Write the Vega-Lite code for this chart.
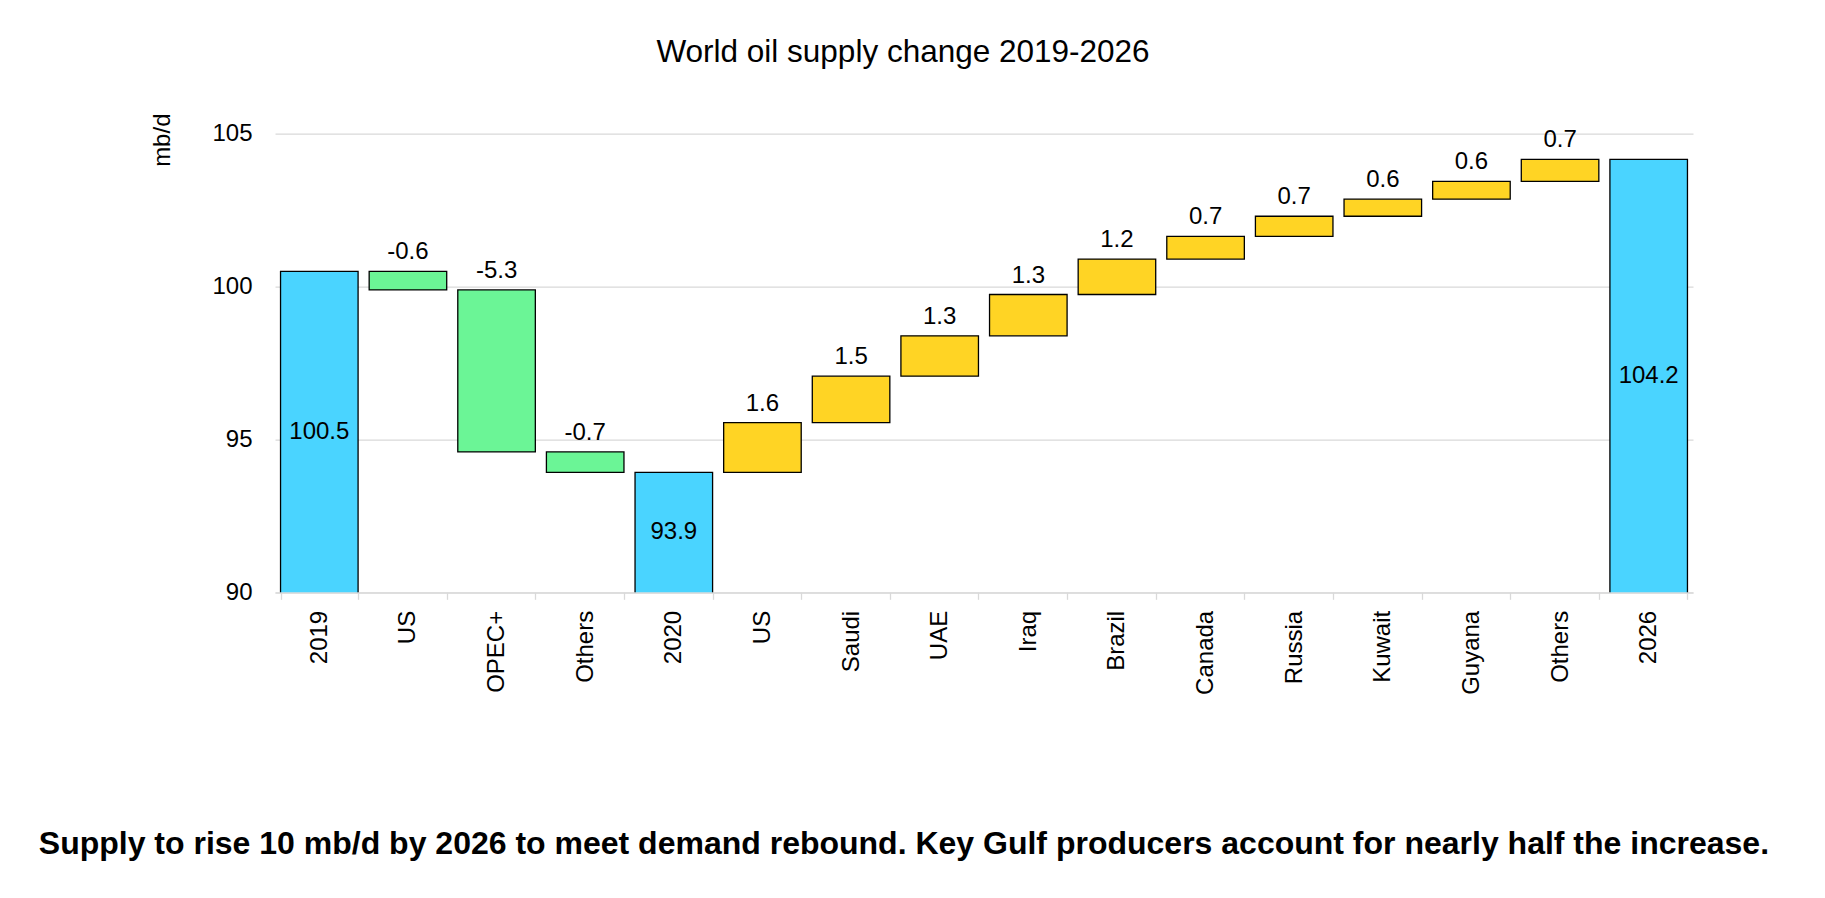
{
  "$schema": "https://vega.github.io/schema/vega-lite/v6.json",
  "width": 1418,
  "height": 458.6,
  "autosize": {"type": "none"},
  "padding": {"left": 275, "top": 133.7, "right": 132, "bottom": 305.7},
  "background": "white",
  "config": {
    "font": "Liberation Sans",
    "locale": {"number": {"decimal": ".", "thousands": ",", "grouping": [3], "currency": ["$", ""], "minus": "-"}},
    "view": {"stroke": null},
    "axis": {"labelColor": "#000000", "titleColor": "#000000", "labelFont": "Liberation Sans", "titleFont": "Liberation Sans"}
  },
  "title": {
    "text": "World oil supply change 2019-2026",
    "fontSize": 31.5,
    "fontWeight": "normal",
    "color": "#000000",
    "anchor": "middle",
    "frame": "group",
    "dx": -81,
    "baseline": "alphabetic",
    "offset": 20
  },
  "data": {
    "values": [
      {"id": "2019|a", "type": "total", "start": 0, "end": 100.5, "value": 100.5},
      {"id": "US|a", "type": "decrease", "start": 100.5, "end": 99.89, "value": -0.6},
      {"id": "OPEC+|a", "type": "decrease", "start": 99.89, "end": 94.59, "value": -5.3},
      {"id": "Others|a", "type": "decrease", "start": 94.59, "end": 93.92, "value": -0.7},
      {"id": "2020|a", "type": "total", "start": 0, "end": 93.92, "value": 93.9},
      {"id": "US|b", "type": "increase", "start": 93.92, "end": 95.55, "value": 1.6},
      {"id": "Saudi|a", "type": "increase", "start": 95.55, "end": 97.07, "value": 1.5},
      {"id": "UAE|a", "type": "increase", "start": 97.07, "end": 98.39, "value": 1.3},
      {"id": "Iraq|a", "type": "increase", "start": 98.39, "end": 99.74, "value": 1.3},
      {"id": "Brazil|a", "type": "increase", "start": 99.74, "end": 100.9, "value": 1.2},
      {"id": "Canada|a", "type": "increase", "start": 100.9, "end": 101.64, "value": 0.7},
      {"id": "Russia|a", "type": "increase", "start": 101.64, "end": 102.3, "value": 0.7},
      {"id": "Kuwait|a", "type": "increase", "start": 102.3, "end": 102.86, "value": 0.6},
      {"id": "Guyana|a", "type": "increase", "start": 102.86, "end": 103.44, "value": 0.6},
      {"id": "Others|b", "type": "increase", "start": 103.44, "end": 104.16, "value": 0.7},
      {"id": "2026|a", "type": "total", "start": 0, "end": 104.16, "value": 104.2}
    ]
  },
  "encoding": {
    "x": {
      "field": "id",
      "type": "nominal",
      "sort": null,
      "scale": {"paddingInner": 0.125, "paddingOuter": 0.0625},
      "axis": {
        "title": "Supply to rise 10 mb/d by 2026 to meet demand rebound. Key Gulf producers account for nearly half the increase.",
        "titleFontSize": 32,
        "titleFontWeight": "bold",
        "titleAlign": "left",
        "titleAnchor": "start",
        "titleBaseline": "alphabetic",
        "titleX": -236.7,
        "titleY": 261,
        "labelExpr": "split(datum.label, '|')[0]",
        "labelAngle": -90,
        "labelAlign": "right",
        "labelBaseline": "middle",
        "labelFontSize": 24,
        "labelPadding": 11,
        "labelOverlap": false,
        "domainColor": "#d9d9d9",
        "domainWidth": 1.3,
        "tickColor": "#d9d9d9",
        "tickWidth": 1.3,
        "tickSize": 7,
        "tickBand": "extent",
        "grid": false
      }
    }
  },
  "layer": [
    {
      "mark": {"type": "bar", "stroke": "#000000", "strokeWidth": 1.3, "clip": true},
      "encoding": {
        "y": {
          "field": "start",
          "type": "quantitative",
          "scale": {"domain": [90, 105], "nice": false, "zero": false},
          "axis": {
            "values": [90, 95, 100, 105],
            "title": "mb/d",
            "titleFontSize": 24,
            "titleFontWeight": "normal",
            "titleAngle": 270,
            "titleAlign": "center",
            "titleBaseline": "middle",
            "titleX": -113,
            "titleY": 6,
            "labelFontSize": 24,
            "labelPadding": 23,
            "domain": false,
            "ticks": false,
            "grid": true,
            "gridColor": "#d9d9d9",
            "gridWidth": 1.3
          }
        },
        "y2": {"field": "end"},
        "color": {
          "field": "type",
          "type": "nominal",
          "legend": null,
          "scale": {"domain": ["total", "decrease", "increase"], "range": ["#4AD4FF", "#6BF596", "#FFD424"]}
        }
      }
    },
    {
      "transform": [{"filter": "datum.type === 'decrease'"}],
      "mark": {"type": "text", "fontSize": 24, "color": "#000000", "baseline": "alphabetic", "dy": -12},
      "encoding": {
        "y": {"field": "start", "type": "quantitative"},
        "text": {"field": "value", "type": "quantitative", "format": ".1f"}
      }
    },
    {
      "transform": [{"filter": "datum.type === 'increase'"}],
      "mark": {"type": "text", "fontSize": 24, "color": "#000000", "baseline": "alphabetic", "dy": -12},
      "encoding": {
        "y": {"field": "end", "type": "quantitative"},
        "text": {"field": "value", "type": "quantitative", "format": ".1f"}
      }
    },
    {
      "transform": [
        {"filter": "datum.type === 'total'"},
        {"calculate": "(max(datum.start, 90) + datum.end) / 2", "as": "mid"}
      ],
      "mark": {"type": "text", "fontSize": 24, "color": "#000000", "baseline": "middle"},
      "encoding": {
        "y": {"field": "mid", "type": "quantitative"},
        "text": {"field": "value", "type": "quantitative", "format": ".1f"}
      }
    }
  ]
}
